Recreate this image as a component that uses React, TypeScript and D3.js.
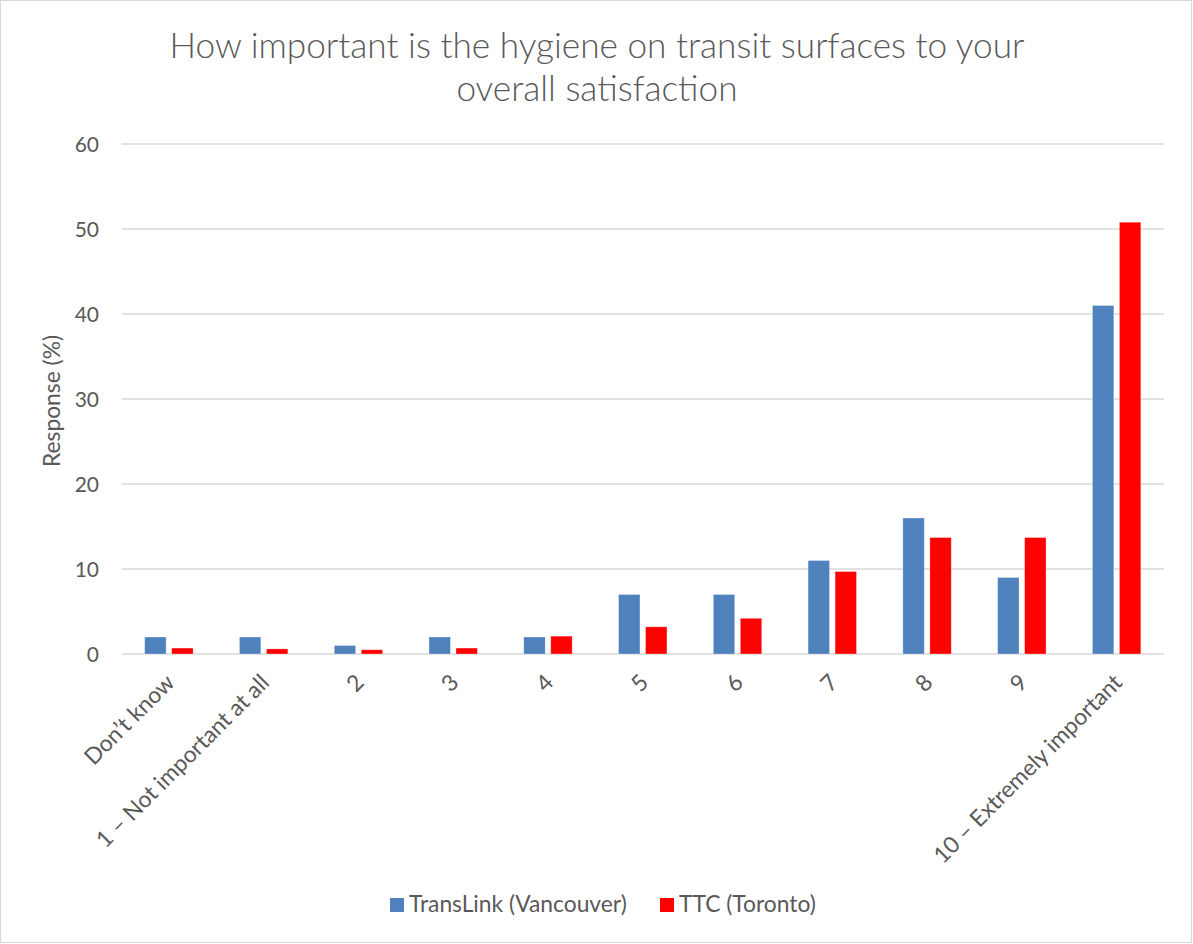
import React from "react";
import * as d3 from "d3";

// Survey categories on the x axis
const categories = [
  "Don’t know",
  "1 – Not important at all",
  "2",
  "3",
  "4",
  "5",
  "6",
  "7",
  "8",
  "9",
  "10 – Extremely important",
];

// Response shares (%) per category
const translink = [2, 2, 1, 2, 2, 7, 7, 11, 16, 9, 41];
const ttc = [0.7, 0.6, 0.5, 0.7, 2.1, 3.2, 4.2, 9.7, 13.7, 13.7, 50.8];

const seriesNames = ["TransLink (Vancouver)", "TTC (Toronto)"];
const seriesColors = ["#4f81bd", "#ff0000"];
const yTicks = [0, 10, 20, 30, 40, 50, 60];

const W = 1193;
const H = 944;
const FONT = "Lato, 'Open Sans', sans-serif";
const TEXT = "#595959";
const LABEL = 22.8;

export default function App() {
  const x0 = d3.scaleBand<string>().domain(categories).range([121.5, 1164]);
  const groupW = 48.4;
  const off = (x0.bandwidth() - groupW) / 2;
  const x1 = d3
    .scaleBand<string>()
    .domain(seriesNames)
    .range([off, off + groupW])
    .paddingInner(0.207);
  const y = d3.scaleLinear().domain([0, 60]).range([654, 144]);
  const series = [translink, ttc];

  return (
    <svg
      width={W}
      height={H}
      style={{ position: "absolute", left: 0, top: 0, background: "#fff" }}
      fontFamily={FONT}
    >
      <rect x={0.5} y={0.5} width={W - 2} height={H - 2} fill="#fff" stroke="#d9d9d9" strokeWidth={1} />

      {/* Title */}
      <text x={597} y={58} textAnchor="middle" fontSize={35.2} fontWeight={300} fill={TEXT}>
        How important is the hygiene on transit surfaces to your
      </text>
      <text x={597} y={101} textAnchor="middle" fontSize={35.2} fontWeight={300} fill={TEXT}>
        overall satisfaction
      </text>

      {/* Gridlines and y tick labels */}
      {yTicks.map((t) => (
        <g key={t}>
          <line x1={121.5} x2={1164} y1={y(t)} y2={y(t)} stroke="#d9d9d9" strokeWidth={1.5} />
          <text x={99} y={y(t)} dy="0.36em" textAnchor="end" fontSize={21} fill={TEXT}>
            {t}
          </text>
        </g>
      ))}

      {/* Bars */}
      {categories.map((c, i) => (
        <g key={c} transform={`translate(${x0(c)},0)`}>
          {series.map((s, j) => (
            <rect
              key={j}
              x={x1(seriesNames[j])}
              y={y(s[i])}
              width={x1.bandwidth()}
              height={y(0) - y(s[i])}
              fill={seriesColors[j]}
              stroke="#ffffff"
              strokeOpacity={0.4}
              strokeWidth={0.75}
            />
          ))}
        </g>
      ))}

      {/* Y axis title */}
      <text
        transform={`translate(60,${y(30) + 2}) rotate(-90)`}
        textAnchor="middle"
        fontSize={LABEL}
        fill={TEXT}
      >
        Response (%)
      </text>

      {/* X tick labels */}
      {categories.map((c) => {
        const cx = (x0(c) as number) + x0.bandwidth() / 2;
        return (
          <text
            key={c}
            transform={`translate(${cx + 7},${684}) rotate(-45)`}
            textAnchor="end"
            fontSize={LABEL}
            fill={TEXT}
          >
            {c}
          </text>
        );
      })}

      {/* Legend */}
      {seriesNames.map((n, j) => {
        const lx = j === 0 ? 390 : 660;
        return (
          <g key={n}>
            <rect x={lx} y={898} width={14} height={14} fill={seriesColors[j]} />
            <text x={lx + 19} y={912} fontSize={LABEL} fill={TEXT}>
              {n}
            </text>
          </g>
        );
      })}
    </svg>
  );
}
